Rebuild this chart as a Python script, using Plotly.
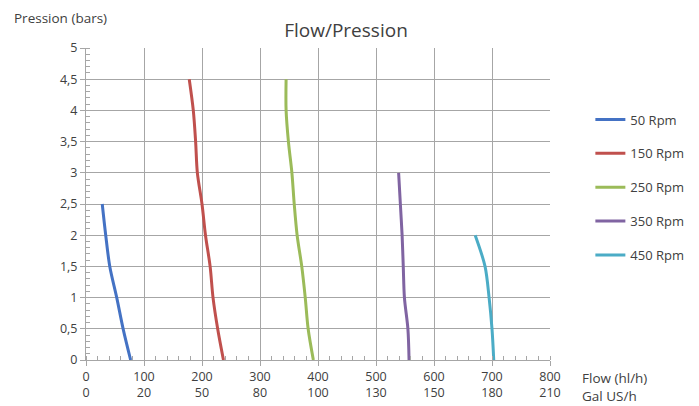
import plotly.graph_objects as go

pressure = [2.5, 2.0, 1.5, 1.0, 0.5, 0.0]
pressure_full = [4.5, 4.0, 3.5, 3.0, 2.5, 2.0, 1.5, 1.0, 0.5, 0.0]
pressure_350 = [3.0, 2.5, 2.0, 1.5, 1.0, 0.5, 0.0]
pressure_450 = [2.0, 1.5, 1.0, 0.5, 0.0]

flow_50 = [28, 34, 41, 53, 64, 77]
flow_150 = [178, 185, 189, 192, 200, 206, 214, 219, 227, 237]
flow_250 = [345, 345, 349, 355, 359, 364, 372, 378, 383, 392]
flow_350 = [539, 542, 545, 547, 549, 555, 557]
flow_450 = [671, 688, 695, 700, 703]

series_names = ["50 Rpm", "150 Rpm", "250 Rpm", "350 Rpm", "450 Rpm"]
series_colors = ["#4472C4", "#C0504D", "#9BBB59", "#8064A2", "#4BACC6"]

flow_ticks = [0, 100, 200, 300, 400, 500, 600, 700, 800]
gal_labels = ["0", "20", "50", "80", "100", "130", "150", "180", "210"]

xs = [flow_50, flow_150, flow_250, flow_350, flow_450]
ys = [pressure, pressure_full, pressure_full, pressure_350, pressure_450]

FONT = "Open Sans"
TXT = "#404040"
GRID = "#A6A6A6"

fig = go.Figure()
for i, (x, y) in enumerate(zip(xs, ys)):
    fig.add_trace(go.Scatter(
        x=x, y=y, mode="lines", name=series_names[i],
        line=dict(color=series_colors[i], width=3, shape="spline", smoothing=0.9),
        legendgroup=str(i),
    ))

ticktext = [f"{a}<br>{b}" for a, b in zip(flow_ticks, gal_labels)]

fig.update_layout(
    width=699, height=406,
    margin=dict(l=86, r=149, t=48, b=46, autoexpand=False),
    paper_bgcolor="white", plot_bgcolor="white",
    separators=", ",
    font=dict(family=FONT, size=12, color=TXT),
    title=dict(text="Flow/Pression", x=346 / 699, xanchor="center",
               y=1 - 30 / 406, yanchor="middle", automargin=False,
               font=dict(family=FONT, size=19, color=TXT)),
    showlegend=True,
    legend=dict(x=1.087, xanchor="left", y=0.819, yanchor="top",
                traceorder="grouped", tracegroupgap=14,
                font=dict(family=FONT, size=13, color=TXT),
                bgcolor="rgba(0,0,0,0)"),
    xaxis=dict(range=[0, 800], tickvals=flow_ticks, ticktext=ticktext,
               automargin=False,
               showgrid=True, gridcolor=GRID, gridwidth=1,
               showline=True, linecolor=GRID, linewidth=1,
               ticks="outside", ticklen=5, tickcolor=GRID,
               minor=dict(dtick=20, ticks="inside", ticklen=4, tickcolor=GRID, showgrid=False),
               zeroline=False, tickfont=dict(size=12.5, color=TXT), fixedrange=True),
    yaxis=dict(range=[0, 5], dtick=0.5, tick0=0, automargin=False,
               showgrid=True, gridcolor=GRID, gridwidth=1,
               showline=True, linecolor=GRID, linewidth=1,
               ticks="outside", ticklen=5, tickcolor=GRID,
               minor=dict(dtick=0.1, ticks="inside", ticklen=4, tickcolor=GRID, showgrid=False),
               zeroline=False, tickfont=dict(size=12.5, color=TXT), fixedrange=True),
)

fig.add_annotation(text="Pression (bars)", xref="paper", yref="paper",
                   x=-74 / 464, y=1 + 30 / 312, xanchor="left", yanchor="middle",
                   showarrow=False, font=dict(family=FONT, size=13.5, color=TXT))
fig.add_annotation(text="Flow (hl/h)<br>Gal US/h", xref="paper", yref="paper",
                   x=(581 - 86) / 464, y=-27 / 312, xanchor="left", yanchor="middle",
                   align="left", showarrow=False, borderpad=0,
                   font=dict(family=FONT, size=13.5, color=TXT))

fig.write_html("out.html", config={"displayModeBar": False},
               post_script="document.body.style.margin='0';document.body.style.overflow='hidden';")
